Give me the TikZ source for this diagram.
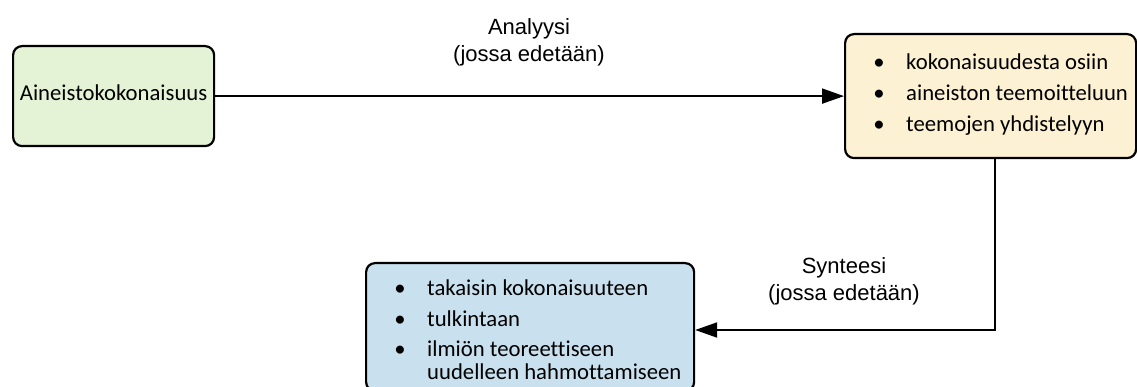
\documentclass[tikz,border=0pt]{standalone}
\usepackage{fontspec}
\setmainfont{Carlito}[Ligatures=NoCommon]
\newfontfamily\labelfont{Liberation Sans}
\usetikzlibrary{arrows.meta}

\definecolor{wholefill}{HTML}{E4F3D6}
\definecolor{analysisfill}{HTML}{FDF1D3}
\definecolor{synthesisfill}{HTML}{C9E0EE}

\tikzset{
  phase/.style={draw=black, line width=2.2pt, rounded corners=9pt,
    inner sep=0pt, anchor=north west},
  boxtext/.style={font=\fontsize{22.7}{24}\selectfont, inner sep=0pt},
  item/.style={boxtext, anchor=base west},
  dot/.style={boxtext, anchor=base},
  flowlabel/.style={font=\labelfont\fontsize{22}{27}\selectfont,
    align=center, inner sep=0pt},
  flow/.style={line width=2pt, -{Triangle[length=22pt,width=15pt]}}
}

\begin{document}
\begin{tikzpicture}[x=1pt, y=-1pt]
  \useasboundingbox (0,0) rectangle (1137,387);
  \clip (0,0) rectangle (1137,387);

  % starting whole
  \node[phase, fill=wholefill, minimum width=201pt, minimum height=100pt]
    (whole) at (12,45) {};
  \node[boxtext, anchor=base] (wholetext) at (whole.center |- 0,101)
    {Aineistokokonaisuus};

  % analysis box
  \node[phase, fill=analysisfill, minimum width=291pt, minimum height=124pt]
    (analysis) at (844,33) {};
  \node[dot] (a1d) at (879,70) {\textbullet};
  \node[item] (a1) at (906,70) {kokonaisuudesta osiin};
  \node[dot] (a2d) at (879,101) {\textbullet};
  \node[item] (a2) at (906,101) {aineiston teemoitteluun};
  \node[dot] (a3d) at (879,132) {\textbullet};
  \node[item] (a3) at (906,132) {teemojen yhdistelyyn};

  % synthesis box
  \node[phase, fill=synthesisfill, minimum width=328pt, minimum height=128pt]
    (synthesis) at (365,262) {};
  \node[dot] (s1d) at (400,295) {\textbullet};
  \node[item] (s1) at (427,295) {takaisin kokonaisuuteen};
  \node[dot] (s2d) at (400,326) {\textbullet};
  \node[item] (s2) at (427,326) {tulkintaan};
  \node[dot] (s3d) at (400,356) {\textbullet};
  \node[item] (s3) at (427,356) {ilmiön teoreettiseen};
  \node[item] (s4) at (427,379) {uudelleen hahmottamiseen};

  % connectors
  \draw[flow] (whole.east) -- (analysis.west);
  \coordinate (bend) at (995,330);
  \draw[flow] (analysis.south -| bend) -- (bend) -- (synthesis.east |- bend);

  % connector labels
  \node[flowlabel] (analysislabel) at (529,42) {Analyysi\\(jossa edetään)};
  \node[flowlabel] (synthesislabel) at (844,281) {Synteesi\\(jossa edetään)};
\end{tikzpicture}
\end{document}
